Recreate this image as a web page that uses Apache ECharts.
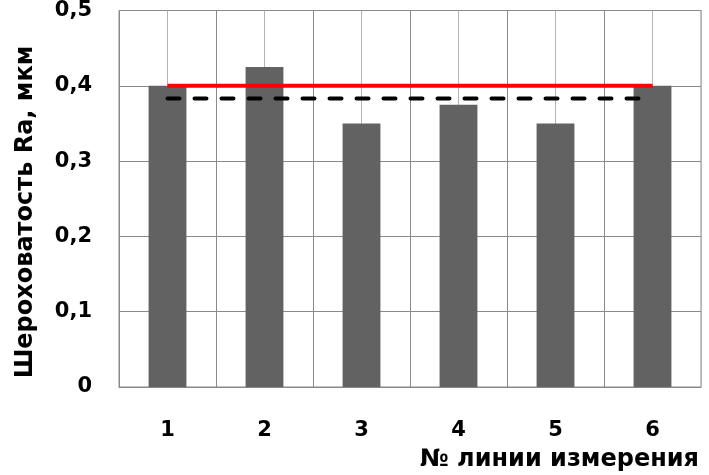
<!DOCTYPE html>
<html>
<head>
<meta charset="utf-8">
<script src="https://cdn.jsdelivr.net/npm/echarts@6/dist/echarts.min.js"></script>
<style>html,body{margin:0;padding:0;background:#fff}#c{width:709px;height:475px}</style>
</head>
<body>
<div id="c"></div>
<script>
var categories = ['1', '2', '3', '4', '5', '6'];
var roughness = [0.4, 0.425, 0.35, 0.375, 0.35, 0.4];
var limitLine = [0.4, 0.4, 0.4, 0.4, 0.4, 0.4];
var meanLine = [0.383, 0.383, 0.383, 0.383, 0.383, 0.383];
var halfCats = ['a','b','c','d','e','f','g','h','i','j','k','l'];
var yAxisTitle = 'Шероховатость Ra, мкм';
var xAxisTitle = '№ линии измерения';

var FONT = 'DejaVu Sans';
var chart = echarts.init(document.getElementById('c'), null, {renderer: 'canvas'});
chart.setOption({
  animation: false,
  backgroundColor: '#fff',
  grid: {left: 119, right: 8, top: 10, bottom: 88, show: true, borderColor: '#888', borderWidth: 1, containLabel: false},
  title: {
    text: xAxisTitle, right: 5, top: 443,
    textStyle: {fontFamily: FONT, fontWeight: 'bold', fontSize: 24, color: '#000'}
  },
  graphic: [{
    type: 'text', x: 26, y: 212, rotation: Math.PI / 2,
    style: {text: yAxisTitle, font: 'bold 24px "DejaVu Sans"', fill: '#000', textAlign: 'center', textVerticalAlign: 'middle'}
  }],
  xAxis: [{
    type: 'category', data: categories, boundaryGap: true,
    axisLine: {show: true, lineStyle: {color: '#888', width: 1}},
    axisTick: {show: false},
    splitLine: {show: true, lineStyle: {color: '#8a8a8a', width: 1}},
    axisLabel: {margin: 33, fontFamily: FONT, fontWeight: 'bold', fontSize: 21, color: '#000'}
  }, {
    type: 'category', data: halfCats, boundaryGap: true, position: 'bottom',
    axisLine: {show: false}, axisTick: {show: false}, axisLabel: {show: false},
    splitLine: {show: true, interval: function (i) { return i % 2 === 1; }, lineStyle: {color: '#b4b4b4', width: 1}}
  }],
  yAxis: {
    type: 'value', min: 0, max: 0.5, interval: 0.1,
    axisLine: {show: false}, axisTick: {show: false},
    splitLine: {show: true, lineStyle: {color: '#8a8a8a', width: 1}},
    axisLabel: {
      margin: 27, fontFamily: FONT, fontWeight: 'bold', fontSize: 21, color: '#000',
      formatter: function (v) { return v === 0 ? '0' : v.toFixed(1).replace('.', ','); }
    }
  },
  series: [{
    type: 'bar', data: roughness, barWidth: '39%', xAxisIndex: 0,
    itemStyle: {color: '#626262'}, z: 2
  }, {
    type: 'line', data: limitLine, xAxisIndex: 0, symbol: 'none',
    lineStyle: {color: '#ff0000', width: 4}, z: 3
  }, {
    type: 'line', data: meanLine, xAxisIndex: 0, symbol: 'none',
    lineStyle: {color: '#000', width: 4, type: [12, 15], cap: 'round'}, z: 3
  }]
});
</script>
</body>
</html>
